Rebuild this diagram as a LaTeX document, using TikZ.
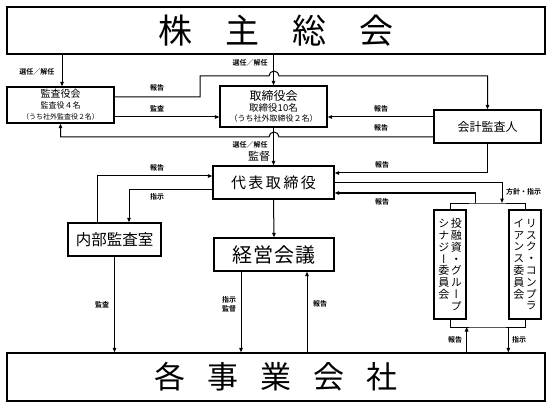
\documentclass[tikz,border=0pt]{standalone}
\usepackage{fontspec}
\setmainfont{Noto Sans CJK JP}[BoldFont={Noto Sans CJK JP Bold}]
\newfontfamily\vfont[RawFeature=+vert]{Noto Sans CJK JP}
\usetikzlibrary{arrows.meta,calc}
\newcommand\vcol[1]{\parbox[t]{12pt}{\centering\vfont\fontsize{11}{11.8}\selectfont #1}}
\begin{document}
\begin{tikzpicture}[x=1pt,y=1pt,
 box/.style={draw,line width=1.3pt,inner sep=0pt,align=center},
 ln/.style={line width=1pt},
 arr/.style={ln,-{Triangle[length=4.5pt,width=3.5pt]}},
 lab/.style={font=\fontsize{7}{8}\selectfont\bfseries,inner sep=0pt,align=center}]
\useasboundingbox (0,0) rectangle (551,-406);
\fill[white] (0,0) rectangle (551,-406);
% boxes
\node[box,minimum width=538,minimum height=47,font=\fontsize{34}{36}\selectfont] (soukai) at (276,-30.5) {株\hspace{33pt}主\hspace{33pt}総\hspace{33pt}会};
\node[box,minimum width=107,minimum height=36] (kansa) at (60.5,-105) {\fontsize{10}{11}\selectfont 監査役会\\[-1pt]\fontsize{8}{9.5}\selectfont 監査役４名\\[-1pt]\fontsize{7}{8.5}\selectfont （うち社外監査役２名）};
\node[box,minimum width=107,minimum height=41] (tori) at (273.5,-106.5) {\fontsize{12}{13}\selectfont 取締役会\\[-1.5pt]\fontsize{9.5}{11}\selectfont 取締役10名\\[-1.5pt]\fontsize{8}{9.5}\selectfont （うち社外取締役２名）};
\node[box,minimum width=107,minimum height=33,font=\fontsize{12}{13}\selectfont] (kaikei) at (487.5,-126.5) {会計監査人};
\node[box,minimum width=121,minimum height=33,font=\fontsize{15}{16}\selectfont] (daihyo) at (273.5,-182.5) {代\hspace{2.5pt}表\hspace{2.5pt}取\hspace{2.5pt}締\hspace{2.5pt}役};
\node[box,minimum width=93,minimum height=33,font=\fontsize{15.5}{17}\selectfont] (naibu) at (114.5,-239.5) {内部監査室};
\node[box,minimum width=120,minimum height=33,font=\fontsize{20}{22}\selectfont] (keiei) at (274,-254.5) {経\hspace{1pt}営\hspace{1pt}会\hspace{1pt}議};
\node[box,minimum width=32,minimum height=109] (toyushi) at (450,-264.5) {\vcol{シ\\ナ\\ジ\\ー\\委\\員\\会}\hspace{0.5pt}\vcol{投\\融\\資\\・\\グ\\ル\\ー\\プ}};
\node[box,minimum width=32,minimum height=109] (risk) at (525,-264.5) {\vcol{イ\\ア\\ン\\ス\\委\\員\\会}\hspace{0.5pt}\vcol{リ\\ス\\ク\\・\\コ\\ン\\プ\\ラ}};
\node[box,minimum width=538,minimum height=48,font=\fontsize{31}{33}\selectfont] (kaku) at (276,-377) {各\hspace{22pt}事\hspace{22pt}業\hspace{22pt}会\hspace{22pt}社};
% bracket coordinates
\coordinate (bt) at (487,-203);
\coordinate (bb) at (487,-327);
% connectors
\draw[arr] (soukai.south -| kansa.north) ++(1.5,0) coordinate (s1) -- (s1 |- kansa.north);
\draw[arr] (soukai.south -| tori.north) -- (tori.north);
\draw[arr] ([yshift=8]kansa.east) -- (200,-97) |- (269,-76) arc[start angle=180,end angle=0,radius=5] -| (kaikei.north);
\draw[arr] ([yshift=-12]kansa.east) -- ([yshift=-12]kansa.east -| tori.west);
\draw[arr] ([yshift=9.5]kaikei.west) -- ([yshift=9.5]kaikei.west -| tori.east);
\draw[arr] ([yshift=-10.5]kaikei.west) -- (279,-137) arc[start angle=0,end angle=180,radius=5] -| (kansa.south);
\draw[arr] (tori.south) -- (daihyo.north);
\draw[arr] (naibu.north -| 97,0) |- ([yshift=6.5]daihyo.west);
\draw[arr] ([yshift=-7.5]daihyo.west) -| (naibu.north -| 129,0);
\draw[arr] (kaikei.south) |- ([yshift=9.5]daihyo.east);
\draw[arr] ([yshift=-0.5]daihyo.east) -| (bt -| 502,0);
\draw[arr] (bt -| 475,0) |- ([yshift=-10.5]daihyo.east);
\draw[ln] (toyushi.north) |- (bt) -| (risk.north);
\draw[ln] (toyushi.south) |- (bb) -| (risk.south);
\draw[arr] (kaku.north -| toyushi.east) -- (bb -| toyushi.east);
\draw[arr] (bb -| risk.west) -- (kaku.north -| risk.west);
\draw[arr] (daihyo.south) -- (keiei.north);
\draw[arr] (keiei.south -| 241,0) -- (kaku.north -| 241,0);
\draw[arr] (kaku.north -| 307,0) -- (keiei.south -| 307,0);
\draw[arr] (naibu.south) -- (kaku.north -| naibu.south);
% labels
\node[lab] (l1) at (37,-72) {選任／解任};
\node[lab] (l2) at (250,-63) {選任／解任};
\node[lab] (l3) at (157,-88) {報告};
\node[lab] (l4) at (157,-109) {監査};
\node[lab] (l5) at (381,-109) {報告};
\node[lab] (l6) at (381,-128) {報告};
\node[lab] (l7) at (250,-145) {選任／解任};
\node[lab,font=\fontsize{11}{12}\selectfont] (l8) at (259,-156) {監督};
\node[lab] (l9) at (157,-168) {報告};
\node[lab] (l10) at (157,-197) {指示};
\node[lab] (l11) at (382,-165) {報告};
\node[lab] (l12) at (382,-202) {報告};
\node[lab,anchor=west] (l13) at (506,-192) {方針・指示};
\node[lab] (l14) at (102,-305) {監査};
\node[lab,font=\fontsize{7}{9}\selectfont\bfseries] (l15) at (229,-304) {指示\\監督};
\node[lab] (l16) at (320,-304) {報告};
\node[lab] (l17) at (455,-340) {報告};
\node[lab] (l18) at (519,-340) {指示};
\end{tikzpicture}
\end{document}
